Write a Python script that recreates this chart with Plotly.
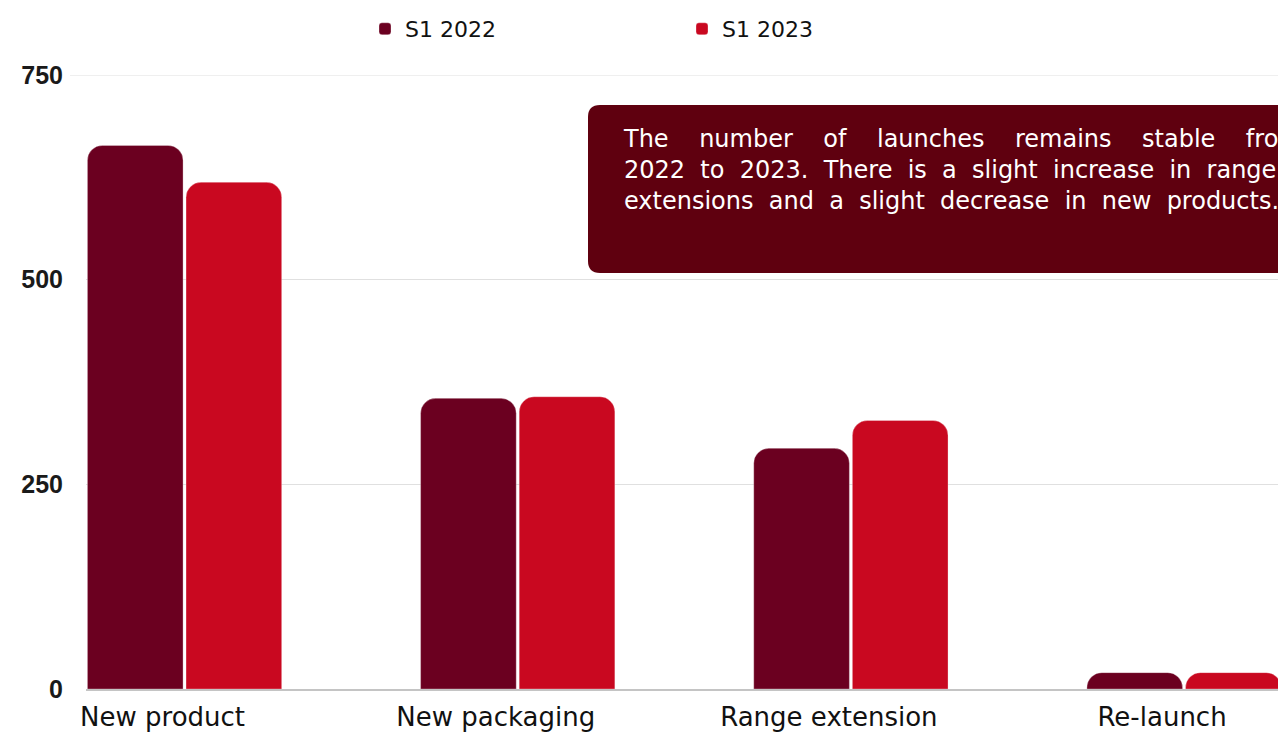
import plotly.graph_objects as go

categories = ["New product", "New packaging", "Range extension", "Re-launch"]
s1_2022 = [664, 355, 294, 20]
s1_2023 = [619, 357, 328, 20]
series_names = ["S1 2022", "S1 2023"]
y_ticks = [0, 250, 500, 750]
note_lines = [
    "The number of launches remains stable from",
    "2022 to 2023. There is a slight increase in range",
    "extensions and a slight decrease in new products.",
]
# extra word spacing per line to imitate justified text (style only)
note_gap = [3, 1, 1]

C22 = "#6b0020"
C23 = "#c90820"
BOX = "#5f000f"

W, H = 1278, 732
L, R, T, B = 86, 0, 75, 43
pw, ph = W - L - R, H - T - B

def px(x):
    return (x - L) / pw

def py(y):
    return (H - B - y) / ph

fig = go.Figure()
fig.add_trace(go.Bar(x=categories, y=s1_2022, name=series_names[0],
                     marker=dict(color=C22, line=dict(color="rgba(255,255,255,0.6)", width=0.5))))
fig.add_trace(go.Bar(x=categories, y=s1_2023, name=series_names[1],
                     marker=dict(color=C23, line=dict(color="rgba(255,255,255,0.6)", width=0.5))))

# rounded annotation box
x0, x1 = px(588), px(1330)
y0, y1 = py(273), py(105)
rx, ry = 12 / pw, 12 / ph
path = (f"M {x0+rx},{y1} L {x1-rx},{y1} Q {x1},{y1} {x1},{y1-ry} "
        f"L {x1},{y0+ry} Q {x1},{y0} {x1-rx},{y0} L {x0+rx},{y0} "
        f"Q {x0},{y0} {x0},{y0+ry} L {x0},{y1-ry} Q {x0},{y1} {x0+rx},{y1} Z")
fig.add_shape(type="path", xref="paper", yref="paper", path=path,
              fillcolor=BOX, line=dict(width=0), layer="above")

lines_html = [(" " + "&nbsp;" * g).join(line.split(" ")) for line, g in zip(note_lines, note_gap)]
fig.add_annotation(xref="paper", yref="paper", x=px(621), y=py(123),
                   xanchor="left", yanchor="top", align="left", showarrow=False,
                   text="<br>".join(lines_html),
                   font=dict(family="DejaVu Sans", size=24, color="white"))

# extend the top grid line slightly left
fig.add_shape(type="line", xref="paper", yref="y", x0=px(70), x1=1, y0=750, y1=750,
              line=dict(color="#e0e0e0", width=1), layer="below")

fig.update_layout(
    width=W, height=H,
    margin=dict(l=L, r=R, t=T, b=B, autoexpand=False),
    paper_bgcolor="white", plot_bgcolor="white",
    barmode="group", bargap=0.408, bargroupgap=0.03, barcornerradius=15,
    showlegend=True,
    legend=dict(orientation="h", x=px(365), y=py(8), xanchor="left", yanchor="top",
                entrywidth=272, entrywidthmode="pixels",
                font=dict(family="DejaVu Sans", size=22, color="#111111")),
    font=dict(family="DejaVu Sans"),
)
fig.update_xaxes(range=[-0.2958, 3.282], showgrid=False, showline=True,
                 linecolor="#c4c4c4", linewidth=2, ticks="", automargin=False,
                 ticklabelstandoff=4, ticklabelshift=-22,
                 tickfont=dict(family="DejaVu Sans", size=26, color="#111111"))
fig.update_yaxes(range=[0, 750], tickvals=y_ticks, showgrid=True, gridcolor="#e0e0e0",
                 gridwidth=1, zeroline=False, showline=False, automargin=False,
                 ticks="", ticklabelstandoff=22,
                 tickfont=dict(family="Liberation Sans", size=25, color="#1a1a1a", weight="bold"))

fig.write_html("out.html", config={"displayModeBar": False},
               post_script="document.body.style.margin='0';")
